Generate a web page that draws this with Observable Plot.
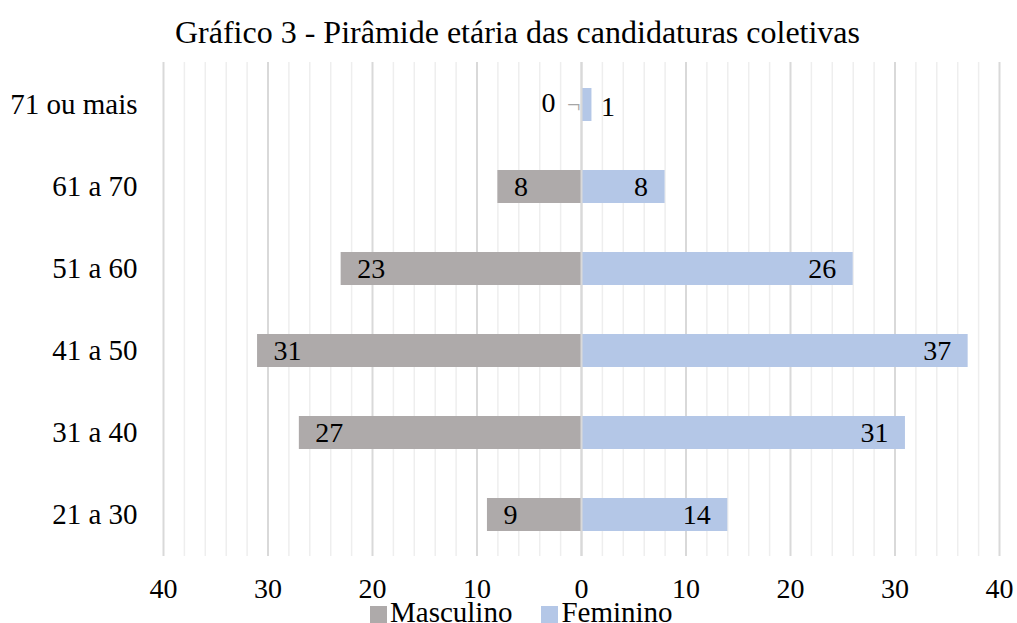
<!DOCTYPE html>
<html>
<head>
<meta charset="utf-8">
<script src="https://cdn.jsdelivr.net/npm/d3@7"></script>
<script src="https://cdn.jsdelivr.net/npm/@observablehq/plot@0.6"></script>
<style>
  body { margin: 0; background: #fff; font-family: "Liberation Serif", "Times New Roman", serif; }
  #wrap { position: relative; width: 1017px; height: 623px; overflow: hidden; }
  #title { height: 48px; line-height: 64px; text-align: center; font-size: 32px; color: #000; padding-left: 18px; box-sizing: border-box; width: 1017px; white-space: nowrap; }
  #legend { position: absolute; top: 596px; left: 370px; font-size: 29px; display: flex; align-items: center; gap: 3px; line-height: 32px; white-space: nowrap; }
  .sw { display: inline-block; width: 17px; height: 17px; margin-top: 4px; }
</style>
</head>
<body>
<div id="wrap">
  <div id="title">Gráfico 3 - Pirâmide etária das candidaturas coletivas</div>
  <div id="chart"></div>
  <div id="legend"></div>
</div>
<script>
const ages = ["21 a 30", "31 a 40", "41 a 50", "51 a 60", "61 a 70", "71 ou mais"];
const masculino = [9, 27, 31, 23, 8, 0];
const feminino = [14, 31, 37, 26, 8, 1];
const seriesNames = ["Masculino", "Feminino"];
const seriesColors = ["#AEAAAA", "#B4C7E7"];
const xTicks = [-40, -30, -20, -10, 0, 10, 20, 30, 40];
const minorTicks = d3.range(-40, 41, 2).filter(v => v % 10 !== 0);

const rows = [];
ages.forEach((a, i) => {
  rows.push({age: a, sex: "Masculino", value: masculino[i], signed: -masculino[i]});
  rows.push({age: a, sex: "Feminino", value: feminino[i], signed: feminino[i]});
});
const masc = rows.filter(d => d.sex === "Masculino");
const fem = rows.filter(d => d.sex === "Feminino");

const font = "Liberation Serif, Times New Roman, serif";

const chart = Plot.plot({
  width: 1017,
  height: 560,
  marginTop: 14,
  marginBottom: 52,
  marginLeft: 163,
  marginRight: 18,
  style: {fontFamily: font, fontSize: "28px", color: "#000", background: "#fff"},
  x: {domain: [-40, 40], ticks: xTicks, tickFormat: d => Math.abs(d), tickSize: 0, tickPadding: 22, label: null},
  y: {domain: ages.slice().reverse(), paddingInner: 0.6, paddingOuter: 0.3, tickSize: 0, tickPadding: 26, label: null},
  color: {domain: seriesNames, range: seriesColors},
  marks: [
    Plot.ruleX(minorTicks, {stroke: "#EEEEEE", strokeWidth: 1.5}),
    Plot.ruleX(xTicks, {stroke: "#D9D9D9", strokeWidth: 2}),
    Plot.barX(rows, {x1: 0, x2: "signed", y: "age", fill: d => d.sex}),
    Plot.ruleX([0], {stroke: "#D9D9D9", strokeWidth: 2}),
    // Masculino labels
    Plot.text(masc.filter(d => d.value >= 2), {x: "signed", y: "age", text: "value", textAnchor: "start", dx: 16, fill: "#000", fontSize: 28}),
    Plot.text(masc.filter(d => d.value < 2), {x: 0, y: "age", text: "value", textAnchor: "end", dx: -26, dy: -2, fill: "#000", fontSize: 28}),
    Plot.text(masc.filter(d => d.value < 2), {x: 0, y: "age", text: () => "¬", textAnchor: "end", dx: -1, dy: -1, fill: "#A6A6A6", fontSize: 24}),
    // Feminino labels
    Plot.text(fem.filter(d => d.value >= 2), {x: "signed", y: "age", text: "value", textAnchor: "end", dx: -17, fill: "#000", fontSize: 28}),
    Plot.text(fem.filter(d => d.value < 2), {x: "signed", y: "age", text: "value", textAnchor: "start", dx: 9, dy: 2, fill: "#000", fontSize: 28})
  ]
});
chart.querySelectorAll("[aria-label='y-axis tick label'] text, g[aria-label='y-axis tick label']").forEach(g => g.setAttribute("font-size", "29"));
document.getElementById("chart").appendChild(chart);

const legend = document.getElementById("legend");
seriesNames.forEach((n, i) => {
  const sw = document.createElement("span");
  sw.className = "sw";
  sw.style.background = seriesColors[i];
  const t = document.createElement("span");
  t.textContent = n;
  t.style.marginRight = i === 0 ? "26px" : "0";
  legend.appendChild(sw);
  legend.appendChild(t);
});
</script>
</body>
</html>
